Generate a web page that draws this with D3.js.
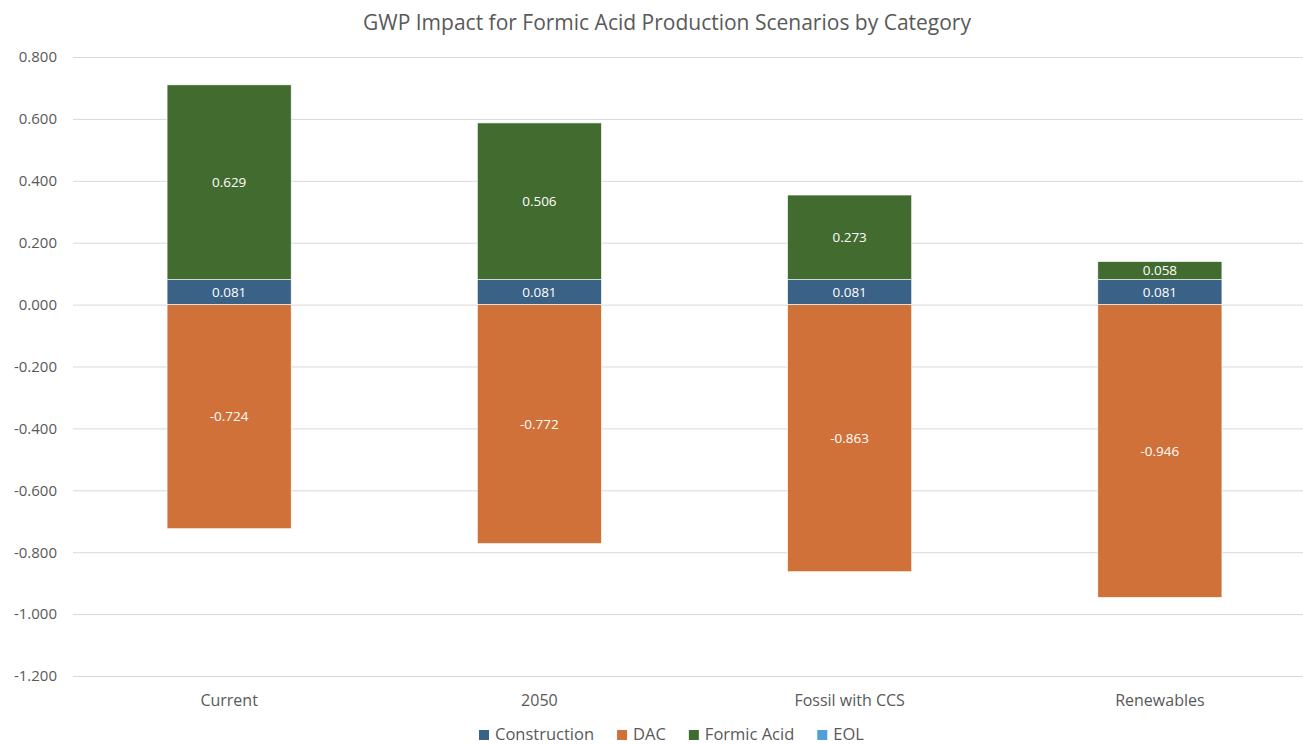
<!DOCTYPE html>
<html>
<head>
<meta charset="utf-8">
<script src="https://cdn.jsdelivr.net/npm/d3@7"></script>
<style>
  body { margin: 0; background: #fff; }
  text { font-family: "Open Sans", "Liberation Sans", sans-serif; }
</style>
</head>
<body>
<div id="chart"></div>
<script>
const categories = ["Current", "2050", "Fossil with CCS", "Renewables"];
const seriesNames = ["Construction", "DAC", "Formic Acid", "EOL"];
const construction = [0.081, 0.081, 0.081, 0.081];
const dac = [-0.724, -0.772, -0.863, -0.946];
const formicAcid = [0.629, 0.506, 0.273, 0.058];
const eol = [0, 0, 0, 0];
const yTicks = [0.8, 0.6, 0.4, 0.2, 0, -0.2, -0.4, -0.6, -0.8, -1.0, -1.2];

const colors = ["#3a6186", "#cf7139", "#426b2f", "#519fd9"];

const WIDTH = 1303;
const HEIGHT = 744;
const MARGIN = { TOP: 57, RIGHT: -12, BOTTOM: 68, LEFT: 74 };

const rows = categories.map((c, i) => ({
  category: c,
  "Construction": construction[i],
  "DAC": dac[i],
  "Formic Acid": formicAcid[i],
  "EOL": eol[i],
}));

const svg = d3.select("#chart")
  .append("svg")
  .attr("width", WIDTH)
  .attr("height", HEIGHT);

const x = d3.scaleBand()
  .domain(categories)
  .range([MARGIN.LEFT, WIDTH - MARGIN.RIGHT])
  .paddingInner(0.6)
  .paddingOuter(0.3);

const y = d3.scaleLinear()
  .domain([-1.2, 0.8])
  .range([HEIGHT - MARGIN.BOTTOM, MARGIN.TOP]);

// Title
svg.append("text")
  .attr("x", 667)
  .attr("y", 30)
  .attr("text-anchor", "middle")
  .attr("fill", "#595959")
  .style("font-size", "21px")
  .text("GWP Impact for Formic Acid Production Scenarios by Category");

// gridlines + y labels
const yAxis = svg.append("g")
  .attr("transform", `translate(${MARGIN.LEFT - 1},0)`)
  .call(d3.axisLeft(y).tickValues(yTicks).tickFormat(d3.format(".3f")).tickSize(-(WIDTH - MARGIN.LEFT + 1)).tickPadding(16));
yAxis.select(".domain").remove();
yAxis.selectAll(".tick line").attr("stroke", "#d9d9d9").attr("stroke-width", 1);
yAxis.selectAll(".tick text")
  .attr("fill", "#595959")
  .style("font-size", "15px")
  .text(d => d3.format(".3f")(d).replace("−", "-"));

// x labels
const xAxis = svg.append("g")
  .attr("transform", `translate(0,${HEIGHT - MARGIN.BOTTOM})`)
  .call(d3.axisBottom(x).tickSize(0).tickPadding(19));
xAxis.select(".domain").remove();
xAxis.selectAll(".tick text")
  .attr("fill", "#595959")
  .style("font-size", "16px");

// stacked bars
const stacked = d3.stack()
  .keys(seriesNames)
  .offset(d3.stackOffsetDiverging)(rows);

const groups = svg.append("g")
  .selectAll("g")
  .data(stacked)
  .join("g")
  .attr("fill", (d, i) => colors[i]);

groups.selectAll("rect")
  .data(d => d.map(v => ({ v, key: d.key })))
  .join("rect")
  .attr("x", d => x(d.v.data.category))
  .attr("width", x.bandwidth())
  .attr("y", d => y(Math.max(d.v[0], d.v[1])))
  .attr("height", d => Math.abs(y(d.v[0]) - y(d.v[1])))
  .attr("stroke", "#fff")
  .attr("stroke-width", 0.6);

groups.selectAll("text.lbl")
  .data(d => d.map(v => ({ v, key: d.key })).filter(e => e.v.data[e.key] !== 0))
  .join("text")
  .attr("class", "lbl")
  .attr("x", d => x(d.v.data.category) + x.bandwidth() / 2)
  .attr("y", d => y((d.v[0] + d.v[1]) / 2))
  .attr("dy", "0.35em")
  .attr("text-anchor", "middle")
  .attr("fill", "#fff")
  .style("font-size", "13.5px")
  .text(d => d3.format(".3f")(d.v.data[d.key]).replace("−", "-"));

// legend, laid out from measured text widths
const legend = svg.append("g").attr("transform", "translate(0,735)");
let lx = 479;
seriesNames.forEach((name, i) => {
  const item = legend.append("g").attr("transform", `translate(${lx},0)`);
  item.append("rect")
    .attr("x", 0)
    .attr("y", -5)
    .attr("width", 10)
    .attr("height", 10)
    .attr("fill", colors[i]);
  const t = item.append("text")
    .attr("x", 16)
    .attr("dy", "0.33em")
    .attr("fill", "#595959")
    .style("font-size", "16.5px")
    .text(name);
  lx += 16 + t.node().getComputedTextLength() + 23;
});
</script>
</body>
</html>
